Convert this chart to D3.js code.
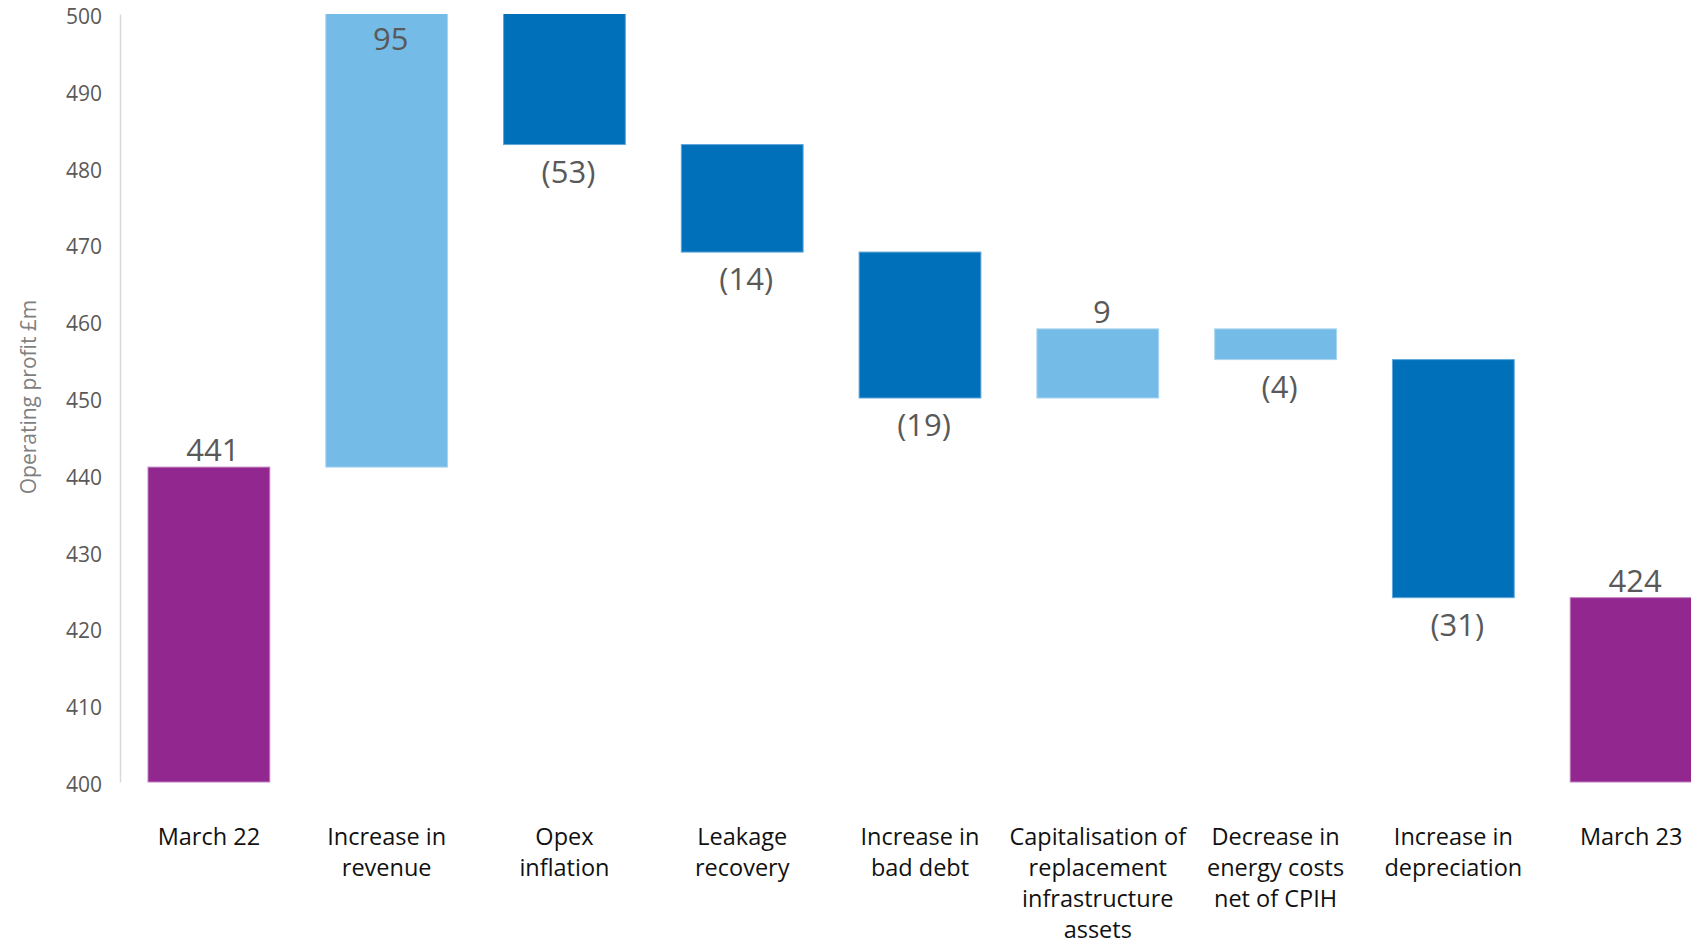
<!DOCTYPE html>
<html>
<head>
<meta charset="utf-8">
<script src="https://cdn.jsdelivr.net/npm/d3@7/dist/d3.min.js"></script>
<style>
  html, body { margin: 0; padding: 0; background: #fff; }
  svg { display: block; }
</style>
</head>
<body>
<svg id="chart" width="1691" height="947"></svg>
<script>
// Operating profit bridge, March 22 to March 23 (£m)
const categories = [
  ["March 22"],
  ["Increase in", "revenue"],
  ["Opex", "inflation"],
  ["Leakage", "recovery"],
  ["Increase in", "bad debt"],
  ["Capitalisation of", "replacement", "infrastructure", "assets"],
  ["Decrease in", "energy costs", "net of CPIH"],
  ["Increase in", "depreciation"],
  ["March 23"]
];
// totals for the first and last column, movements in between
const values = [441, 95, -53, -14, -19, 9, -4, -31, 424];
const barType = ["total", "step", "step", "step", "step", "step", "step", "step", "total"];
const barSeries = ["total", "light", "dark", "dark", "dark", "light", "light", "dark", "total"];
const yTicks = [400, 410, 420, 430, 440, 450, 460, 470, 480, 490, 500];
const yTitle = "Operating profit £m";

const seriesColor = { total: "#92278f", light: "#75bbe7", dark: "#0070ba" };
const seriesEdge  = { total: "#c27ec0", light: "#a9d5f1", dark: "#5fa6d8" };

const svg = d3.select("#chart");
const W = 1691;
const plot = { left: 120, right: 1720, top: 14, bottom: 782 };

// running totals give the floating segments
let running = 0;
const bars = values.map((v, i) => {
  let lo, hi;
  if (barType[i] === "total") { lo = 400; hi = v; running = v; }
  else { const start = running; running += v; lo = Math.min(start, running); hi = Math.max(start, running); }
  return { i, v, lo, hi, type: barType[i], series: barSeries[i], label: categories[i] };
});

const x = d3.scaleBand()
  .domain(d3.range(categories.length))
  .range([plot.left, plot.right])
  .paddingInner(0.315)
  .paddingOuter(0.1575);

const y = d3.scaleLinear()
  .domain([400, 500])
  .range([plot.bottom, plot.top]);

svg.append("defs").append("clipPath").attr("id", "plotClip")
  .append("rect")
  .attr("x", 0).attr("y", plot.top)
  .attr("width", W).attr("height", plot.bottom - plot.top + 2);

// y axis
const yAxis = d3.axisLeft(y)
  .tickValues(yTicks)
  .tickSizeInner(0)
  .tickSizeOuter(0)
  .tickPadding(18)
  .tickFormat(d3.format("d"));

const gy = svg.append("g")
  .attr("transform", `translate(${plot.left},0)`)
  .call(yAxis);
gy.select(".domain").attr("stroke", "#d9d9d9").attr("stroke-width", 1.5);
gy.selectAll(".tick text")
  .attr("fill", "#595959")
  .attr("font-family", "Open Sans")
  .attr("font-size", 21)
  .attr("dy", "0.45em");

svg.append("text")
  .attr("transform", `translate(36,397) rotate(-90)`)
  .attr("text-anchor", "middle")
  .attr("fill", "#7f7f7f")
  .attr("font-family", "Open Sans")
  .attr("font-size", 21)
  .text(yTitle);

// bars
svg.append("g")
  .attr("clip-path", "url(#plotClip)")
  .selectAll("rect")
  .data(bars)
  .join("rect")
  .attr("x", d => x(d.i))
  .attr("width", x.bandwidth())
  .attr("y", d => y(d.hi))
  .attr("height", d => y(d.lo) - y(d.hi))
  .attr("fill", d => seriesColor[d.series])
  .attr("stroke", d => seriesEdge[d.series])
  .attr("stroke-width", 1);

// value labels: above for totals and increases, below for decreases;
// kept inside the top of the plot when the bar runs past it
const fmtVal = v => v < 0 ? `(${Math.abs(v)})` : `${v}`;
svg.append("g")
  .selectAll("text")
  .data(bars)
  .join("text")
  .attr("x", d => x(d.i) + x.bandwidth() / 2 + 4)
  .attr("y", d => {
    if (d.v < 0) return y(d.lo) + 38;
    if (d.hi > 500) return y(500) + 36;
    return y(d.hi) - 6;
  })
  .attr("text-anchor", "middle")
  .attr("fill", "#595959")
  .attr("font-family", "Open Sans")
  .attr("font-size", 31)
  .text(d => fmtVal(d.v));

// category labels
const cat = svg.append("g")
  .selectAll("text")
  .data(bars)
  .join("text")
  .attr("x", d => x(d.i) + x.bandwidth() / 2)
  .attr("y", 845)
  .attr("text-anchor", "middle")
  .attr("fill", "#111")
  .attr("font-family", "Open Sans")
  .attr("font-size", 23.5);
cat.selectAll("tspan")
  .data(d => d.label.map(t => ({ t, xx: x(d.i) + x.bandwidth() / 2 })))
  .join("tspan")
  .attr("x", d => d.xx)
  .attr("dy", (d, k) => k === 0 ? 0 : 31)
  .text(d => d.t);
</script>
</body>
</html>
